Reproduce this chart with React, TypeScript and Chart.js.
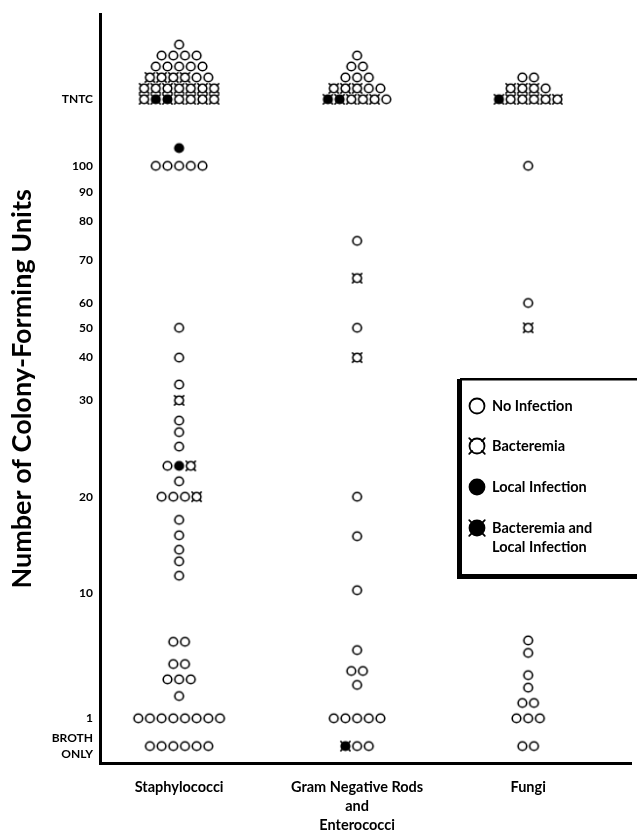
import React, { useEffect, useRef } from "react";
import { Chart, registerables } from "chart.js";

Chart.register(...registerables);

// ---------- data ----------
const categories: string[][] = [
  ["Staphylococci"],
  ["Gram Negative Rods", "and", "Enterococci"],
  ["Fungi"],
];

// y axis ticks: 0 = "BROTH ONLY", 130 = "TNTC" (too numerous to count)
const yTickLabels: (string | string[])[] = [
  ["BROTH", "ONLY"], "1", "10", "20", "30", "40", "50", "60", "70", "80", "90", "100", "TNTC",
];
const yTickValues = [0, 1, 10, 20, 30, 40, 50, 60, 70, 80, 90, 100, 130];

// marker codes: o = no infection, b = bacteremia, l = local infection, x = bacteremia and local infection
const staphValues = [0, 1, 2.6, 3.8, 4.9, 6.5, 11.8, 13.3, 14.5, 16, 17.6, 20, 21.6, 23.2, 25.2, 26.7, 27.9, 30, 33.7, 40, 50, 100, 108];
const staphMarks = ["oooooo", "oooooooo", "o", "ooo", "oo", "oo", "o", "o", "o", "o", "o", "ooob", "o", "olb", "o", "o", "o", "b", "o", "o", "o", "ooooo", "l"];
const staphTntc = ["bxxbbbb", "bbbbbbb", "bbbboo", "ooooo", "oooo", "o"];

const gramValues = [0, 1, 3.4, 4.4, 5.9, 10.3, 15.9, 20, 40, 50, 65.8, 75];
const gramMarks = ["xoo", "ooooo", "o", "oo", "o", "o", "o", "o", "b", "o", "b", "o"];
const gramTntc = ["xxbbbo", "bbboo", "ooo", "oo", "o"];

const fungiValues = [0, 1, 2.1, 3.2, 4.1, 5.7, 6.6, 50, 60, 100];
const fungiMarks = ["oo", "ooo", "oo", "o", "o", "o", "o", "b", "o", "o"];
const fungiTntc = ["xbbbbb", "bbbo", "oo"];

const legendLabels: string[][] = [
  ["No Infection"],
  ["Bacteremia"],
  ["Local Infection"],
  ["Bacteremia and", "Local Infection"],
];
const legendCodes = ["o", "b", "l", "x"];

// ---------- layout (not data) ----------
const W = 637;
const H = 837;
const AREA_TOP = 10;
const AXIS_Y = 763;
const AXIS_X = 100;
const Y_MAX = AXIS_Y - AREA_TOP; // axis units == pixels above x axis
const X_MAX = W - AXIS_X;
const yTickPos = [17, 45, 171, 268, 365, 408, 438, 463, 506, 545, 575, 601, 668];
const COL_X = [80, 260, 433];
const DOT_DX = 11.8;
const DOT_DY = 11;
const FONT = "Lato, 'Open Sans', sans-serif";

function toAxis(v: number): number {
  for (let i = 0; i < yTickValues.length - 1; i++) {
    const a = yTickValues[i], b = yTickValues[i + 1];
    if (v >= a && v <= b) {
      return yTickPos[i] + ((v - a) / (b - a)) * (yTickPos[i + 1] - yTickPos[i]);
    }
  }
  return yTickPos[yTickPos.length - 1];
}

function makeMarker(code: string, r: number, lw: number, horn: number): HTMLCanvasElement {
  const size = Math.ceil((r + horn + lw) * 2) + 2;
  const c = document.createElement("canvas");
  c.width = size;
  c.height = size;
  const ctx = c.getContext("2d")!;
  const m = size / 2;
  ctx.strokeStyle = "#000";
  ctx.fillStyle = "#000";
  ctx.lineWidth = lw;
  ctx.beginPath();
  ctx.arc(m, m, r, 0, Math.PI * 2);
  if (code === "l" || code === "x") ctx.fill();
  ctx.stroke();
  if (code === "b" || code === "x") {
    ctx.lineCap = "round";
    for (const ang of [Math.PI / 4, (3 * Math.PI) / 4, (5 * Math.PI) / 4, (7 * Math.PI) / 4]) {
      ctx.beginPath();
      ctx.moveTo(m + Math.cos(ang) * (r - lw * 0.3), m + Math.sin(ang) * (r - lw * 0.3));
      ctx.lineTo(m + Math.cos(ang) * (r + horn), m + Math.sin(ang) * (r + horn));
      ctx.stroke();
    }
  }
  return c;
}

type Pt = { x: number; y: number };

function buildPoints() {
  const out: Record<string, Pt[]> = { o: [], b: [], l: [], x: [] };
  const cols = [
    { values: staphValues, marks: staphMarks, tntc: staphTntc },
    { values: gramValues, marks: gramMarks, tntc: gramTntc },
    { values: fungiValues, marks: fungiMarks, tntc: fungiTntc },
  ];
  const addRow = (ci: number, y: number, s: string) => {
    const n = s.length;
    for (let i = 0; i < n; i++) {
      out[s[i]].push({ x: COL_X[ci] + (i - (n - 1) / 2) * DOT_DX, y });
    }
  };
  cols.forEach((col, ci) => {
    col.values.forEach((v, i) => addRow(ci, toAxis(v), col.marks[i]));
    const base = toAxis(130);
    col.tntc.forEach((s, k) => addRow(ci, base + k * DOT_DY, s));
  });
  return out;
}

export default function App() {
  const ref = useRef<HTMLCanvasElement | null>(null);

  useEffect(() => {
    if (!ref.current) return;
    const pts = buildPoints();
    const codes = ["o", "b", "l", "x"];
    const markers: Record<string, HTMLCanvasElement> = {};
    const bigMarkers: Record<string, HTMLCanvasElement> = {};
    codes.forEach((c) => {
      markers[c] = makeMarker(c, 4.3, 1.6, 2.2);
      bigMarkers[c] = makeMarker(c, 7.5, 1.8, 3.5);
    });

    const legendPlugin = {
      id: "boxLegend",
      afterDraw(chart: any) {
        const ctx = chart.ctx as CanvasRenderingContext2D;
        ctx.save();
        const x0 = 457, y0 = 378, x1 = W, y1 = 579;
        ctx.fillStyle = "#fff";
        ctx.fillRect(x0, y0, x1 - x0, y1 - y0);
        ctx.fillStyle = "#000";
        ctx.fillRect(x0 + 3, y0, x1 - x0, 2.5); // top
        ctx.fillRect(x0, y0 + 1, 5, y1 - y0 - 1); // left (thick)
        ctx.fillRect(x0, y1 - 5, x1 - x0, 5); // bottom (thick)
        const rows = [406, 446, 487, 528];
        ctx.font = `bold 14.5px ${FONT}`;
        ctx.textBaseline = "middle";
        ctx.textAlign = "left";
        legendLabels.forEach((lines, i) => {
          const img = bigMarkers[legendCodes[i]];
          ctx.drawImage(img, 477 - img.width / 2, rows[i] - img.height / 2);
          lines.forEach((t, j) => ctx.fillText(t, 492, rows[i] + j * 19));
        });
        ctx.restore();
      },
    };

    const chart = new Chart(ref.current, {
      type: "scatter",
      data: {
        datasets: codes.map((c) => ({
          label: c,
          data: pts[c],
          pointStyle: markers[c] as any,
          pointRadius: 5,
          showLine: false,
          clip: false as any,
        })),
      },
      options: {
        animation: false,
        responsive: false,
        events: [],
        layout: { padding: { top: AREA_TOP, left: 0, right: 0, bottom: 0 } },
        plugins: { legend: { display: false }, tooltip: { enabled: false } },
        scales: {
          x: {
            type: "linear",
            position: "bottom",
            min: 0,
            max: X_MAX,
            grid: { display: false, drawTicks: false },
            border: { display: true, color: "#000", width: 3 },
            afterBuildTicks: (s: any) => {
              s.ticks = COL_X.map((v) => ({ value: v }));
            },
            afterFit: (s: any) => {
              s.height = H - AXIS_Y;
            },
            ticks: {
              autoSkip: false,
              maxRotation: 0,
              minRotation: 0,
              padding: 15,
              color: "#000",
              font: { family: FONT, weight: "bold", size: 14.5, lineHeight: 1.3 },
              callback: (_v: any, i: number) => categories[i],
            },
          },
          y: {
            type: "linear",
            position: "left",
            min: 0,
            max: Y_MAX,
            grid: { display: false, drawTicks: false },
            border: { display: true, color: "#000", width: 3 },
            afterBuildTicks: (s: any) => {
              s.ticks = yTickPos.map((v) => ({ value: v }));
            },
            afterFit: (s: any) => {
              s.width = AXIS_X;
            },
            ticks: {
              autoSkip: false,
              padding: 7,
              color: "#000",
              font: { family: FONT, weight: "bold", size: 12, lineHeight: 1.3 },
              callback: (_v: any, i: number) => yTickLabels[i],
            },
            title: {
              display: true,
              text: "Number of Colony-Forming Units",
              color: "#000",
              font: { family: FONT, weight: "bold", size: 27 },
              padding: { top: 6, bottom: 0 },
            },
          },
        },
      },
      plugins: [legendPlugin],
    });
    return () => chart.destroy();
  }, []);

  return (
    <div style={{ position: "absolute", left: 0, top: 0, width: W, height: H, background: "#fff" }}>
      <canvas ref={ref} width={W} height={H} style={{ display: "block" }} />
    </div>
  );
}
